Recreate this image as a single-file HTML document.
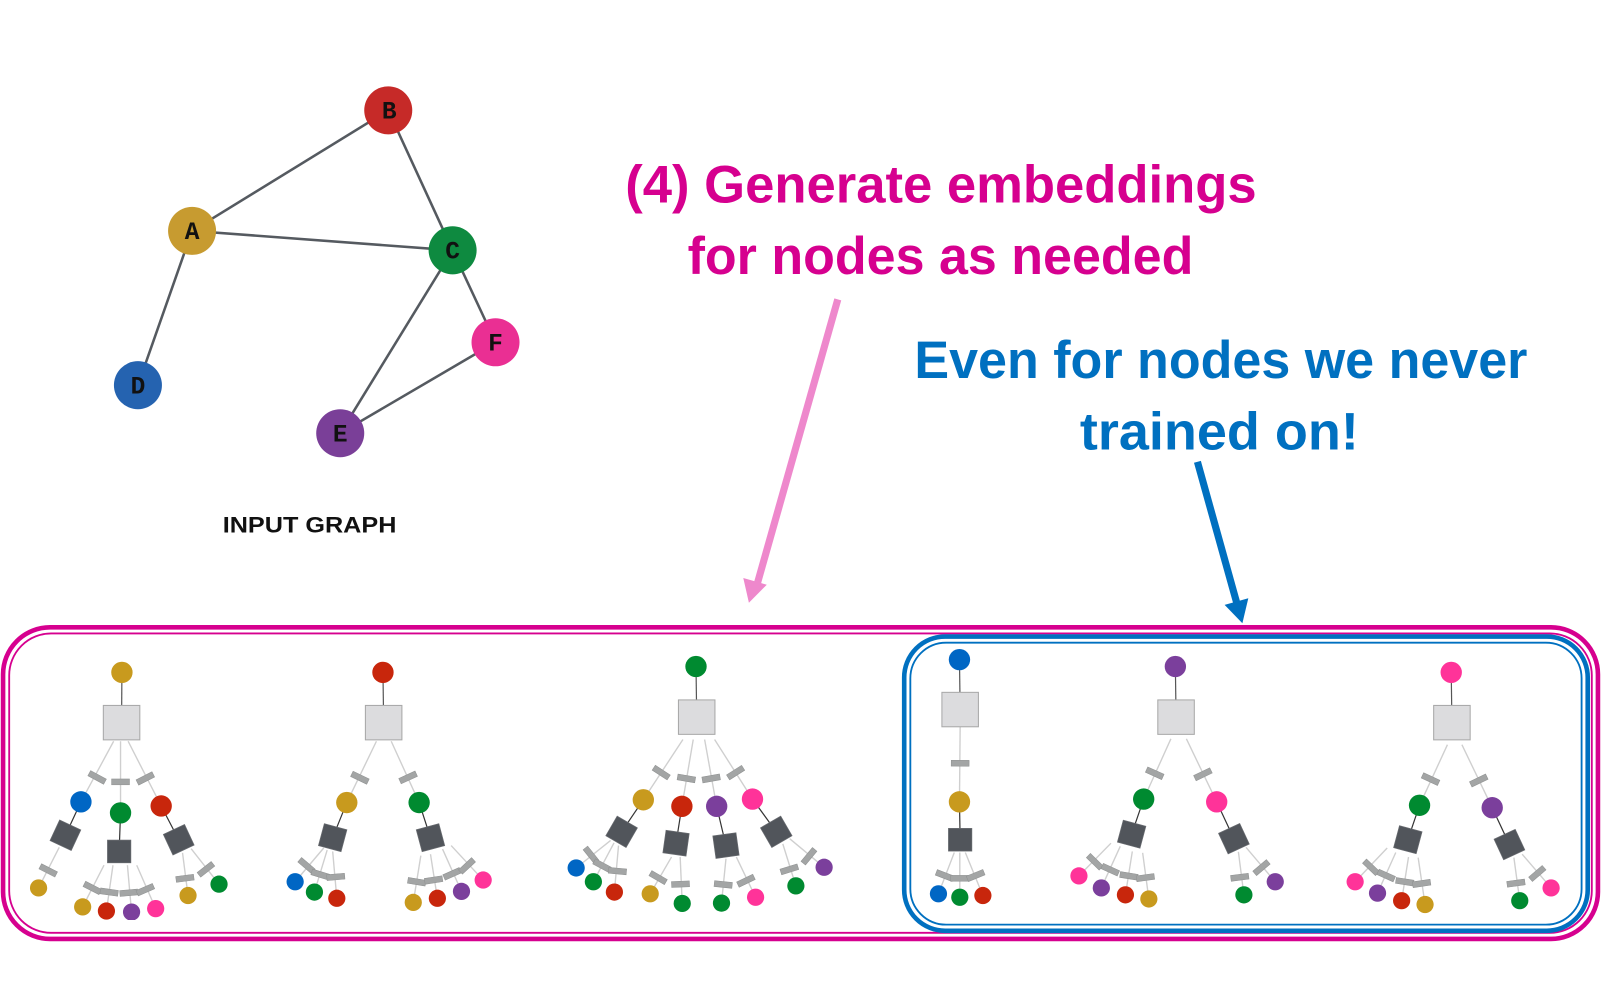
<!DOCTYPE html>
<html><head><meta charset="utf-8">
<style>html,body{margin:0;padding:0;background:#fff;}svg{display:block;}</style>
</head><body>
<svg id="root" width="1602" height="982" viewBox="0 0 1602 982" xmlns="http://www.w3.org/2000/svg">
<g transform="scale(1.0217)">
 <!-- input graph -->
 <g stroke="#555a60" stroke-width="2.5">
  <line x1="188" y1="226" x2="380" y2="108"/>
  <line x1="380" y1="108" x2="443" y2="245"/>
  <line x1="188" y1="226" x2="443" y2="245"/>
  <line x1="188" y1="226" x2="135" y2="377"/>
  <line x1="443" y1="245" x2="485" y2="335"/>
  <line x1="443" y1="245" x2="333" y2="424"/>
  <line x1="485" y1="335" x2="333" y2="424"/>
 </g>
 <circle cx="380" cy="108" r="23.5" fill="#c62a28"/>
 <circle cx="188" cy="226" r="23.5" fill="#c79b30"/>
 <circle cx="443" cy="245" r="23.5" fill="#0e8a40"/>
 <circle cx="135" cy="377" r="23.5" fill="#2563b0"/>
 <circle cx="485" cy="335" r="23.5" fill="#ea2f93"/>
 <circle cx="333" cy="424" r="23.5" fill="#7a3f98"/>
 <g font-family="'Liberation Mono', monospace" font-weight="bold" font-size="24" text-anchor="middle" fill="#111">
  <text x="381" y="116">B</text><text x="188" y="234">A</text><text x="443" y="253">C</text>
  <text x="135" y="385">D</text><text x="485" y="343">F</text><text x="333" y="432">E</text>
 </g>
 <text x="303" y="521" font-family="'Liberation Sans', sans-serif" font-weight="bold" font-size="22" text-anchor="middle" fill="#111" textLength="170" lengthAdjust="spacingAndGlyphs">INPUT GRAPH</text>

 <!-- titles -->
 <g font-family="'Liberation Sans', sans-serif" font-weight="bold" font-size="52">
  <text x="612" y="198" fill="#d6008f" textLength="618" lengthAdjust="spacingAndGlyphs">(4) Generate embeddings</text>
  <text x="673" y="268" fill="#d6008f" textLength="495" lengthAdjust="spacingAndGlyphs">for nodes as needed</text>
  <text x="895" y="370" fill="#0070c0" textLength="600" lengthAdjust="spacingAndGlyphs">Even for nodes we never</text>
  <text x="1057" y="440" fill="#0070c0" textLength="273" lengthAdjust="spacingAndGlyphs">trained on!</text>
 </g>

 <!-- arrows -->
 <line x1="820" y1="293" x2="741" y2="572" stroke="#ee88cc" stroke-width="7"/>
 <polygon points="733,590 750.5,572.3 727.5,565.7" fill="#ee88cc"/>
 <line x1="1172" y1="452" x2="1211" y2="592" stroke="#0070c0" stroke-width="7"/>
 <polygon points="1216,610 1221.8,585.6 1198.6,592" fill="#0070c0"/>

 <!-- borders -->
 <rect x="3" y="614" width="1561" height="305" rx="46" fill="none" stroke="#d6008f" stroke-width="4.5"/>
 <rect x="9" y="620" width="1549" height="293" rx="41" fill="none" stroke="#d6008f" stroke-width="1.8"/>
 <rect x="885" y="623" width="669" height="288" rx="40" fill="none" stroke="#0070c0" stroke-width="4.5"/>
 <rect x="891" y="629" width="657" height="276" rx="35" fill="none" stroke="#0070c0" stroke-width="1.8"/>
</g>
<svg id="p1" x="0" y="620" width="540" height="300" viewBox="0 0 1568 871"></svg>
<svg id="p2" x="540" y="620" width="540" height="300" viewBox="0 0 1568 871"></svg>
<svg id="p3" x="1060" y="620" width="540" height="300" viewBox="0 0 1568 871"></svg>
</svg>
<script>
var C={g:"#c89a1e",r:"#c8260c",G:"#008a30",b:"#0066c4",p:"#7b3f9c",k:"#ff3399"};
// tree: root [x,y,c], sq [x,y], kids: [cx,cy,c, ex,ey (edge end at sq), bx,by, sub]
// sub: {d:[x,y,rot], leaves:[[x,y,c,ex,ey,bx,by],...]}
function L(x,y,c,ex,ey,bx,by){return [x,y,c,ex,ey,bx,by];}
var P={
p1:[
 {root:[354,152,"g"],sq:[353,298],kids:[
  [235,528,"b",330,352,282,457,{d:[190,625,25],l:[L(112,778,"g",172,660,140,727)]}],
  [350,560,"G",350,352,350,470,{d:[346,672,0],l:[L(240,833,"g",302,712,268,778),L(309,845,"r",328,712,317,790),L(382,848,"p",370,712,374,792),L(452,838,"k",397,712,422,783)]}],
  [468,540,"r",372,352,422,460,{d:[519,638,-25],l:[L(546,800,"g",530,676,537,750),L(636,767,"G",555,664,598,724)]}]]},
 {root:[1112,152,"r"],sq:[1114,298],kids:[
  [1007,530,"g",1093,352,1045,458,{d:[966,632,15],l:[L(857,760,"b",940,662,890,713),L(913,790,"G",950,668,930,739),L(978,808,"r",966,672,975,746)]}],
  [1217,530,"G",1136,352,1185,457,{d:[1250,632,-15],l:[L(1200,820,"g",1222,684,1210,760),L(1270,808,"r",1250,680,1259,755),L(1340,788,"p",1285,665,1313,737),L(1403,755,"k",1310,655,1356,714)]}]]}
],
p2:[
 {root:[453,135,"G"],sq:[455,282],kids:[
  [300,522,"g",415,347,352,443,{d:[237,615,30],l:[L(105,720,"b",205,640,148,682),L(155,760,"G",215,647,180,713),L(216,790,"r",228,655,225,729)]}],
  [412,541,"r",445,347,425,460,{d:[395,648,8],l:[L(320,795,"g",382,688,343,748),L(413,823,"G",407,688,408,767)]}],
  [513,541,"p",478,347,497,460,{d:[540,655,-8],l:[L(527,822,"G",540,693,532,768),L(626,805,"k",570,688,598,757)]}],
  [617,520,"k",507,347,568,443,{d:[686,615,-30],l:[L(743,772,"G",705,650,724,724),L(825,718,"p",725,635,781,686)]}]]},
 {root:[1218,115,"b"],sq:[1220,260],kids:[
  [1218,528,"g",1220,310,1220,416,{d:[1220,638,0],l:[L(1157,795,"b",1203,675,1175,742),L(1219,805,"G",1219,675,1218,750),L(1286,800,"r",1235,675,1265,742)]}]]}
],
p3:[
 {root:[335,135,"p"],sq:[337,282],kids:[
  [243,520,"G",322,345,275,445,{d:[208,622,15],l:[L(55,743,"k",148,648,101,702),L(120,778,"p",175,657,146,725),L(190,798,"r",210,672,200,743),L(258,810,"g",240,676,248,748)]}],
  [455,528,"k",367,345,415,448,{d:[505,635,-25],l:[L(534,798,"G",518,673,522,747),L(625,760,"p",540,660,585,719)]}]]},
 {root:[1136,152,"k"],sq:[1138,298],kids:[
  [1044,538,"G",1125,362,1076,462,{d:[1010,638,15],l:[L(857,760,"k",950,662,903,718),L(922,793,"p",975,675,947,742),L(992,815,"r",1012,688,1001,760),L(1060,826,"g",1040,690,1050,765)]}],
  [1255,545,"p",1167,362,1216,466,{d:[1305,652,-25],l:[L(1335,815,"G",1318,690,1324,764),L(1426,778,"k",1342,680,1386,736)]}]]}
]};
function edge(a,x,y,ex,ey,bx,by){
 var ang=Math.atan2(ey-y,ex-x)*180/Math.PI+90;
 a.lines+='<line x1="'+x+'" y1="'+y+'" x2="'+ex+'" y2="'+ey+'" stroke="#cfcfcf" stroke-width="4"/>';
 a.bars+='<rect x="'+(bx-26)+'" y="'+(by-8.5)+'" width="52" height="17" fill="#a3a5a5" stroke="#8e9090" stroke-width="1.5" transform="rotate('+ang.toFixed(1)+' '+bx+' '+by+')"/>';
}
for(var id in P){
 var a={lines:'',bars:'',sq:'',circ:''};
 P[id].forEach(function(t){
  var r=t.root,s=t.sq;
  a.lines+='<line x1="'+s[0]+'" y1="'+s[1]+'" x2="'+r[0]+'" y2="'+r[1]+'" stroke="#555" stroke-width="3.5"/>';
  a.sq+='<rect x="'+(s[0]-53)+'" y="'+(s[1]-50)+'" width="106" height="100" fill="#dcdcde" stroke="#a8a8a8" stroke-width="3"/>';
  a.circ+='<circle cx="'+r[0]+'" cy="'+r[1]+'" r="31" fill="'+C[r[2]]+'"/>';
  t.kids.forEach(function(k){
   edge(a,k[0],k[1],k[3],k[4],k[5],k[6]);
   a.circ+='<circle cx="'+k[0]+'" cy="'+k[1]+'" r="31" fill="'+C[k[2]]+'"/>';
   var d=k[7].d;
   a.lines+='<line x1="'+d[0]+'" y1="'+d[1]+'" x2="'+k[0]+'" y2="'+k[1]+'" stroke="#333" stroke-width="3.5"/>';
   a.sq+='<rect x="'+(d[0]-34)+'" y="'+(d[1]-33)+'" width="68" height="66" fill="#51555b" stroke="#6a6d72" stroke-width="2" transform="rotate('+d[2]+' '+d[0]+' '+d[1]+')"/>';
   k[7].l.forEach(function(l){
    edge(a,l[0],l[1],l[3],l[4],l[5],l[6]);
    a.circ+='<circle cx="'+l[0]+'" cy="'+l[1]+'" r="25" fill="'+C[l[2]]+'"/>';
   });
  });
 });
 document.getElementById(id).innerHTML=a.lines+a.bars+a.sq+a.circ;
}
</script>
</body></html>
